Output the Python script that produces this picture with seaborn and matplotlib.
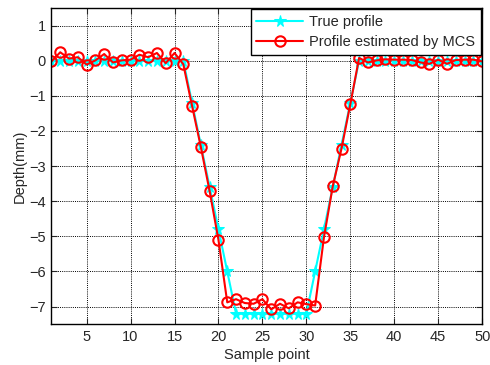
import numpy as np
import pandas as pd
import matplotlib
matplotlib.use("Agg")
import matplotlib.pyplot as plt
import seaborn as sns

# Sample positions and depth profiles (mm)
sample_points = list(range(1, 51))
true_depth = ([0.0] * 16 + [-1.2, -2.4, -3.6, -4.8, -6.0] + [-7.2] * 9
              + [-6.0, -4.8, -3.6, -2.4, -1.2] + [0.0] * 15)
mcs_depth = [-0.02, 0.24, 0.06, 0.10, -0.11, 0.01, 0.19, -0.05, 0.01, 0.03,
             0.17, 0.10, 0.22, -0.07, 0.22, -0.10, -1.29, -2.46, -3.72, -5.10,
             -6.88, -6.79, -6.90, -6.92, -6.79, -7.08, -6.92, -7.05, -6.88, -6.93,
             -6.97, -5.03, -3.58, -2.50, -1.24, 0.08, -0.05, 0.01, 0.04, 0.03,
             0.03, 0.02, -0.05, -0.09, 0.03, -0.09, 0.02, 0.03, 0.03, -0.02]
series_labels = ["True profile", "Profile estimated by MCS"]
x_ticks = [5, 10, 15, 20, 25, 30, 35, 40, 45, 50]
y_ticks = [-7, -6, -5, -4, -3, -2, -1, 0, 1]

df = pd.DataFrame({"x": sample_points, "true": true_depth, "mcs": mcs_depth})

sns.set_theme(style="white")
plt.rcParams["font.family"] = ["Liberation Sans", "DejaVu Sans"]

fig = plt.figure(figsize=(4.9, 3.65), dpi=100)
ax = fig.add_axes([0.105, 0.112, 0.879, 0.866])

sns.lineplot(data=df, x="x", y="true", ax=ax, color="#00FFFF", lw=1.5,
             marker="*", markersize=8.5, markeredgecolor="#00FFFF",
             label=series_labels[0])
sns.lineplot(data=df, x="x", y="mcs", ax=ax, color="red", lw=1.5,
             marker="o", markersize=7.5, markerfacecolor="none",
             markeredgecolor="red", markeredgewidth=1.5,
             label=series_labels[1])

ax.set_xlim(1, 50)
ax.set_ylim(-7.5, 1.5)
ax.set_xticks(x_ticks)
ax.set_yticks(y_ticks)
ax.set_xlabel("Sample point", fontsize=10.5, labelpad=3)
ax.set_ylabel("Depth(mm)", fontsize=10.5, labelpad=2)
ax.tick_params(direction="in", length=4, width=0.8, labelsize=10.5,
               top=True, right=True, bottom=True, left=True, pad=4)
ax.grid(True, color="black", linestyle=(0, (1, 1.2)), linewidth=0.7)
for s in ax.spines.values():
    s.set_visible(True)
    s.set_color("black")
    s.set_linewidth(1.0)

leg = ax.legend(loc="upper right", fontsize=10.5, frameon=True, fancybox=False,
                handlelength=3.2, borderaxespad=0.1, borderpad=0.4,
                labelspacing=0.4, handletextpad=0.4, framealpha=1)
leg.get_frame().set_edgecolor("black")
leg.get_frame().set_linewidth(1.0)

fig.savefig("out.png", dpi=100)
